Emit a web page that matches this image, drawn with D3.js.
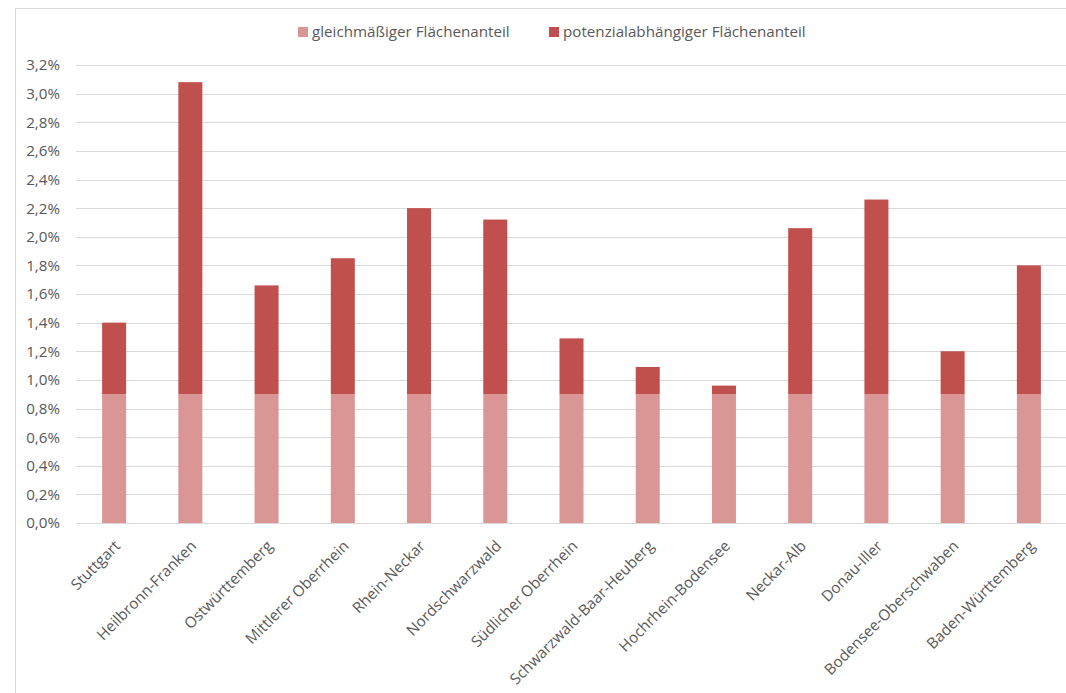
<!DOCTYPE html>
<html>
<head>
<meta charset="utf-8">
<script src="https://cdn.jsdelivr.net/npm/d3@7"></script>
<style>
  html, body { margin: 0; padding: 0; background: #fff; }
  svg { display: block; font-family: "Open Sans", Lato, sans-serif; }
</style>
</head>
<body>
<svg id="chart" width="1066" height="693"></svg>
<script>
// Regionen in Baden-Württemberg
const regions = [
  "Stuttgart", "Heilbronn-Franken", "Ostwürttemberg", "Mittlerer Oberrhein",
  "Rhein-Neckar", "Nordschwarzwald", "Südlicher Oberrhein",
  "Schwarzwald-Baar-Heuberg", "Hochrhein-Bodensee", "Neckar-Alb",
  "Donau-Iller", "Bodensee-Oberschwaben", "Baden-Württemberg"
];
// Flächenanteile in Prozent
const gleichmaessig = [0.90, 0.90, 0.90, 0.90, 0.90, 0.90, 0.90, 0.90, 0.90, 0.90, 0.90, 0.90, 0.90];
const potenzialabhaengig = [0.50, 2.18, 0.76, 0.95, 1.30, 1.22, 0.39, 0.19, 0.06, 1.16, 1.36, 0.30, 0.90];
const seriesNames = ["gleichmäßiger Flächenanteil", "potenzialabhängiger Flächenanteil"];
const yTicks = [0, 0.2, 0.4, 0.6, 0.8, 1.0, 1.2, 1.4, 1.6, 1.8, 2.0, 2.2, 2.4, 2.6, 2.8, 3.0, 3.2];

const colors = ["#D99694", "#C0504D"];
const textColor = "#595959";
const fontSize = "15.2px";
const fontFamily = "'Open Sans', Lato, sans-serif";

const svg = d3.select("#chart");

// outer chart frame
svg.append("rect")
  .attr("x", 15.5).attr("y", 8.5)
  .attr("width", 1100).attr("height", 800)
  .attr("fill", "#fff").attr("stroke", "#D9D9D9").attr("stroke-width", 1);

const plot = { left: 76, right: 1067, top: 65, bottom: 523 };

const x = d3.scaleBand().domain(regions).range([plot.left, plot.right]).paddingInner(0.685).paddingOuter(0.3425);
const y = d3.scaleLinear().domain([0, 3.2]).range([plot.bottom, plot.top]);

const fmt = v => d3.format(".1f")(v).replace(".", ",") + "%";

// horizontal gridlines
svg.append("g")
  .selectAll("line")
  .data(yTicks)
  .join("line")
  .attr("x1", plot.left).attr("x2", plot.right)
  .attr("y1", d => Math.round(y(d)) + 0.5).attr("y2", d => Math.round(y(d)) + 0.5)
  .attr("stroke", "#D9D9D9").attr("stroke-width", 1);

// y axis labels
const yAxis = d3.axisLeft(y).tickValues(yTicks).tickFormat(fmt).tickSize(0).tickPadding(16);
const yG = svg.append("g").attr("transform", `translate(${plot.left},0)`).call(yAxis);
yG.select(".domain").remove();
yG.selectAll("text")
  .attr("fill", textColor)
  .style("font-size", fontSize)
  .style("font-family", fontFamily);

// stacked bars
const stackData = regions.map((r, i) => ({ region: r, g: gleichmaessig[i], p: potenzialabhaengig[i] }));
const stacked = d3.stack().keys(["g", "p"])(stackData);

svg.append("g")
  .selectAll("g")
  .data(stacked)
  .join("g")
  .attr("fill", (d, i) => colors[i])
  .selectAll("rect")
  .data(d => d)
  .join("rect")
  .attr("x", d => x(d.data.region))
  .attr("width", x.bandwidth())
  .attr("y", d => y(d[1]))
  .attr("height", d => y(d[0]) - y(d[1]));

// category labels, rotated
const xAxis = d3.axisBottom(x).tickSize(0).tickPadding(0);
const xG = svg.append("g").attr("transform", `translate(0,${plot.bottom})`).call(xAxis);
xG.select(".domain").remove();
xG.selectAll("text")
  .attr("fill", textColor)
  .style("font-size", fontSize)
  .style("font-family", fontFamily)
  .attr("text-anchor", "end")
  .attr("dy", null)
  .attr("transform", "translate(7,24) rotate(-45)");

// legend
const legendX = [298, 549];
const legend = svg.append("g");
seriesNames.forEach((name, i) => {
  legend.append("rect")
    .attr("x", legendX[i]).attr("y", 27)
    .attr("width", 10).attr("height", 10)
    .attr("fill", colors[i]);
  legend.append("text")
    .attr("x", legendX[i] + 14).attr("y", 37)
    .attr("fill", textColor)
    .style("font-size", fontSize)
    .style("font-family", fontFamily)
    .text(name);
});
</script>
</body>
</html>
